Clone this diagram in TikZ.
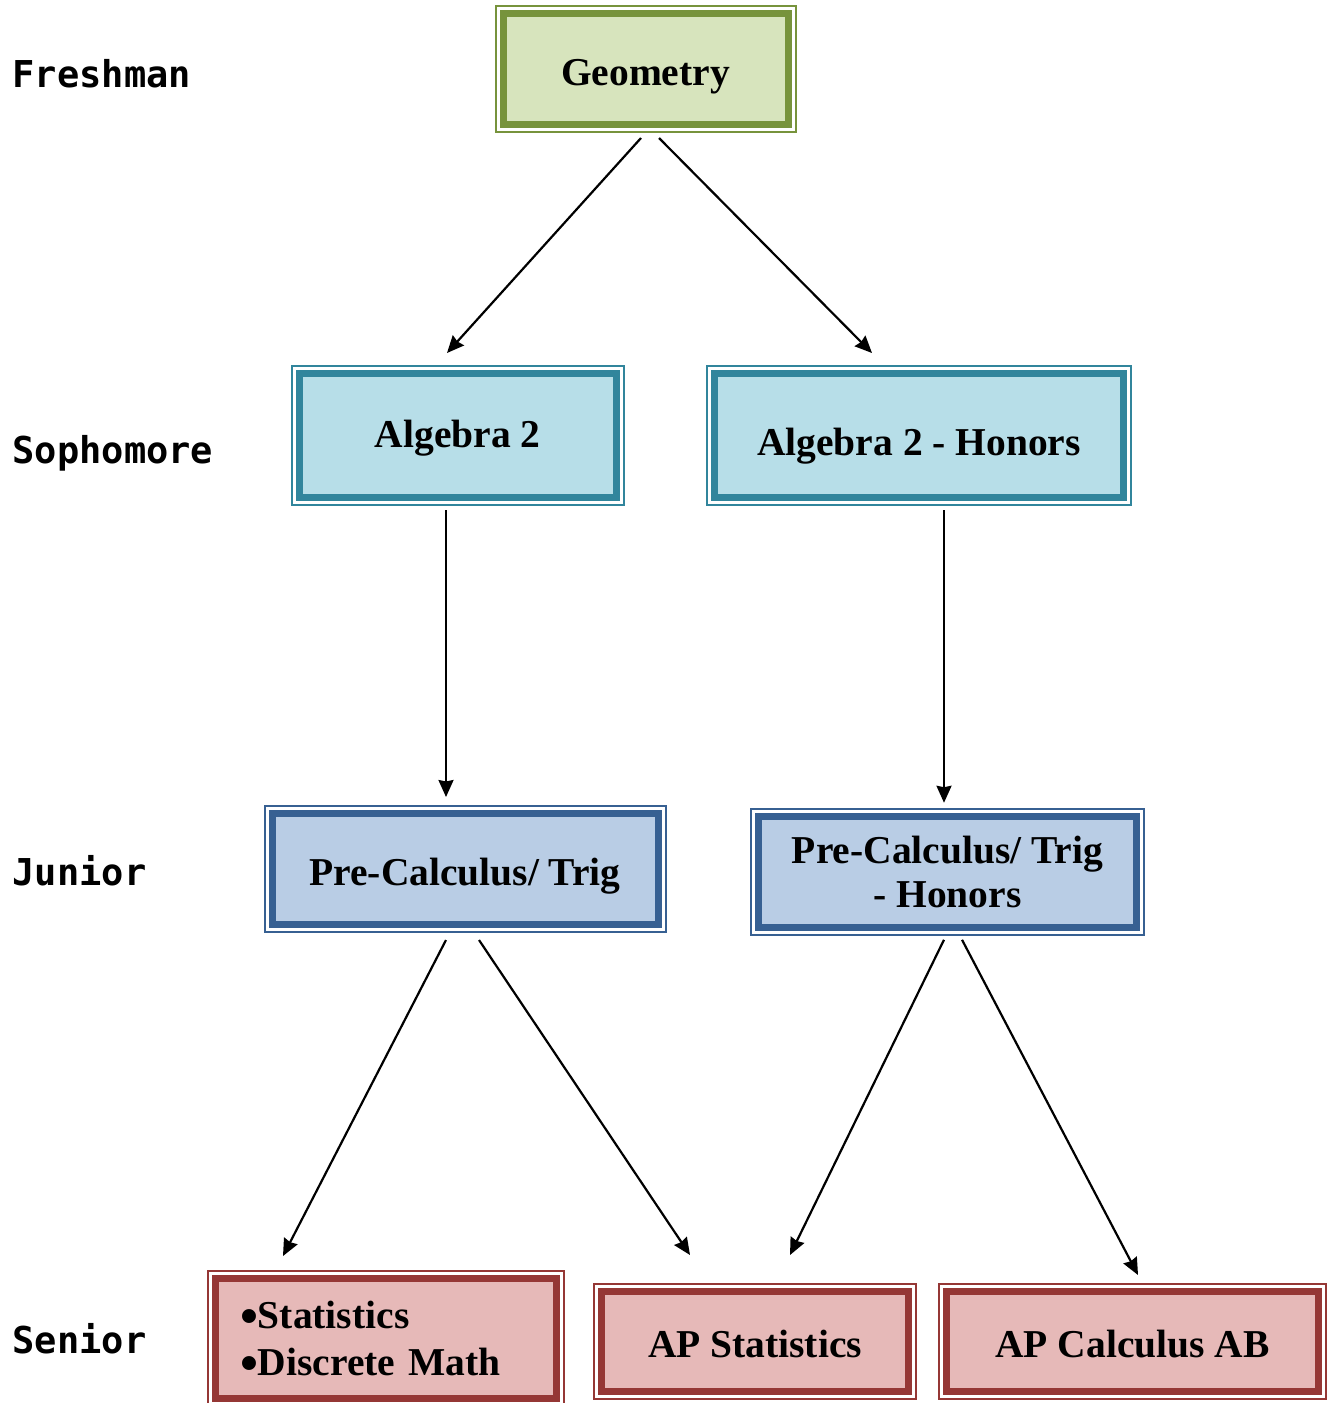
\documentclass[tikz,border=0pt]{standalone}
\usepackage{fontspec}
\usepackage{graphicx}
\setmainfont{Liberation Serif}
\newfontfamily\yearfont{DejaVu Sans Mono}
\usetikzlibrary{arrows.meta}

\definecolor{geoFill}{HTML}{D7E4BD}
\definecolor{geoLine}{HTML}{77933C}
\definecolor{sophFill}{HTML}{B7DEE8}
\definecolor{sophLine}{HTML}{31859C}
\definecolor{junFill}{HTML}{B9CDE5}
\definecolor{junLine}{HTML}{376092}
\definecolor{senFill}{HTML}{E6B9B8}
\definecolor{senLine}{HTML}{953735}

% list bullet, a little larger than the text bullet
\newcommand\listdot{\raisebox{-5pt}[0pt][0pt]{\scalebox{1.3}{•}}}

\begin{document}
\begin{tikzpicture}[x=1pt,y=-1pt,
  course/.style={rectangle, line width=7pt, outer sep=0pt, inner sep=0pt,
    align=center, font=\fontsize{39.5}{44}\selectfont\bfseries},
  oneline/.style={text height=40pt, text depth=#1},
  geobox/.style={course, draw=geoLine, fill=geoFill},
  sophbox/.style={course, draw=sophLine, fill=sophFill},
  junbox/.style={course, draw=junLine, fill=junFill},
  senbox/.style={course, draw=senLine, fill=senFill},
  frameline/.style={line width=2pt},
  year/.style={anchor=base west, inner sep=0pt, font=\yearfont\bfseries\fontsize{37}{40}\selectfont},
  link/.style={line width=2.2pt, -{Stealth[length=17pt, width=15pt, inset=1.5pt]}}
]
\useasboundingbox (0,0) rectangle (1330,1403);

% year labels
\node[year] (fresh) at (12.5,87)   {Freshman};
\node[year] (soph)  at (12.5,463)  {Sophomore};
\node[year] (jun)   at (12.5,885)  {Junior};
\node[year] (sen)   at (12.5,1353) {Senior};

% course boxes
\node[geobox, oneline=7pt, minimum width=285pt, minimum height=111pt]
  (geo) at (645.5,68.5) {Geometry};

\node[sophbox, oneline=17pt, minimum width=317.5pt, minimum height=124pt]
  (alg) at (457.75,435.5) {Algebra 2};
\node[sophbox, oneline=1pt, minimum width=409pt, minimum height=124pt]
  (algh) at (919,435.5) {Algebra 2 - Honors};

\node[junbox, oneline=8pt, minimum width=386pt, minimum height=111pt]
  (pre) at (465,869) {Pre-Calculus/ Trig};
\node[junbox, minimum width=378pt, minimum height=111.5pt]
  (preh) at (947.5,872) {Pre-Calculus/ Trig\\- Honors};

\node[senbox, minimum width=341.5pt, minimum height=120pt, text width=291.5pt,
  align=left, font=\fontsize{39.5}{47}\selectfont\bfseries]
  (sd) at (385.75,1338) {\listdot Statistics\\\listdot Discrete Math};
\node[senbox, oneline=9pt, minimum width=307pt, minimum height=100pt]
  (aps) at (755,1341.5) {AP Statistics};
\node[senbox, oneline=9pt, minimum width=372pt, minimum height=100pt]
  (apc) at (1132.5,1341.5) {AP Calculus AB};

% thin outer frames around each box
\foreach \n/\c in {geo/geoLine, alg/sophLine, algh/sophLine, pre/junLine,
                   preh/junLine, sd/senLine, aps/senLine, apc/senLine}
  \draw[frameline, draw=\c] ([shift={(-7.5,-7.5)}]\n.north west)
    rectangle ([shift={(7.5,7.5)}]\n.south east);

% prerequisite arrows
\draw[link] ([shift={(-4.5,14)}]geo.south)  -- ([shift={(-10.75,-20.5)}]alg.north);
\draw[link] ([shift={(13.5,14)}]geo.south)  -- ([shift={(-47,-20.5)}]algh.north);
\draw[link] ([shift={(-11.75,12.5)}]alg.south) -- ([shift={(-19,-16.5)}]pre.north);
\draw[link] ([shift={(25,12.5)}]algh.south) -- ([shift={(-3.5,-13.5)}]preh.north);
\draw[link] ([shift={(-19,15.5)}]pre.south) -- ([shift={(-102.75,-22)}]sd.north);
\draw[link] ([shift={(14,15.5)}]pre.south)  -- ([shift={(-65,-36.5)}]aps.north);
\draw[link] ([shift={(-3.5,12)}]preh.south) -- ([shift={(35,-36.5)}]aps.north);
\draw[link] ([shift={(14.5,12)}]preh.south) -- ([shift={(5.5,-16.5)}]apc.north);
\end{tikzpicture}
\end{document}
